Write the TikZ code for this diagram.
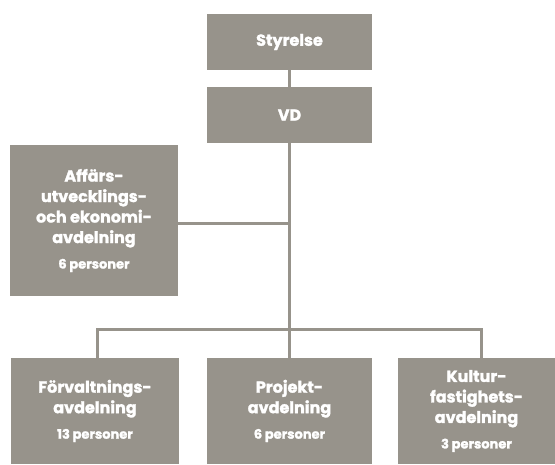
\documentclass[tikz,border=0pt]{standalone}
\usepackage{fontspec}
\setmainfont{Poppins}[BoldFeatures={FakeBold=1.6}]
\definecolor{boxgray}{HTML}{97938B}
\newcommand{\pers}[1]{\\[5pt]{\fontsize{13}{15}\selectfont #1 personer}}
\tikzset{
  orgbox/.style={fill=boxgray, draw=none, inner sep=0pt, text=white, align=center,
    font=\bfseries\fontsize{16}{20.5}\selectfont},
  conn/.style={draw=boxgray, line width=3pt}
}
\begin{document}
\begin{tikzpicture}[x=1pt,y=-1pt]
\useasboundingbox (0,0) rectangle (555,464);
\node[orgbox, minimum width=165, minimum height=56] (sty) at (289.5,42) {Styrelse};
\node[orgbox, minimum width=165, minimum height=56] (vd) at (289.5,115) {VD};
\node[orgbox, minimum width=168, minimum height=151] (aff) at (94,220.5) {Affärs-\\utvecklings-\\och ekonomi-\\avdelning\pers{6}};
\node[orgbox, minimum width=168, minimum height=106] (forv) at (95,411) {Förvaltnings-\\avdelning\pers{13}};
\node[orgbox, minimum width=165, minimum height=106] (proj) at (289.5,411) {Projekt-\\avdelning\pers{6}};
\node[orgbox, minimum width=157, minimum height=106] (kult) at (476.5,411) {Kultur-\\fastighets-\\avdelning\pers{3}};
\coordinate (bus) at (289.5,329);
\draw[conn] (sty.south) -- (vd.north);
\draw[conn] (vd.south) -- (proj.north);
\draw[conn] (aff.east |- 0,223) -- (289.5,223);
\draw[conn] ([xshift=2pt]forv.north) |- (bus) -| ([xshift=4.5pt]kult.north);
\end{tikzpicture}
\end{document}
